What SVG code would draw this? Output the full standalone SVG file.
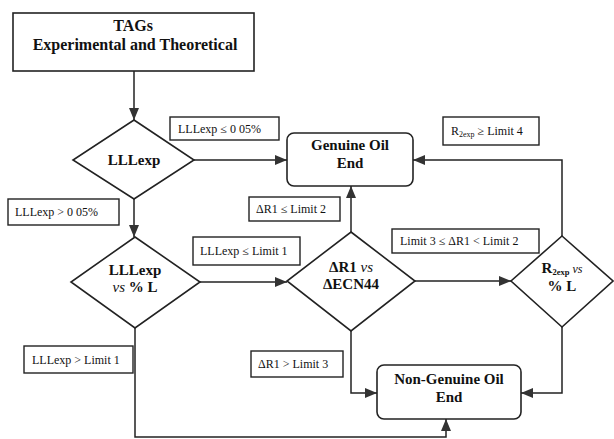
<svg xmlns="http://www.w3.org/2000/svg" width="614" height="439" viewBox="0 0 614 439">
<style>
.box{fill:#fff;stroke:#222;stroke-width:1.6}
.lbl{fill:#fff;stroke:#222;stroke-width:1.4}
.ln{fill:none;stroke:#222;stroke-width:1.5}
.nt{font-family:"Liberation Serif",serif;font-weight:bold;font-size:15px;fill:#111;text-anchor:middle}
.tt{font-size:16px}
.lt{font-family:"Liberation Serif",serif;font-size:12px;fill:#111}
.sub{font-size:8.5px;font-weight:bold}
</style>
<defs>
<marker id="ah" viewBox="0 0 12 10" refX="12" refY="5" markerWidth="12" markerHeight="10" markerUnits="userSpaceOnUse" orient="auto">
<path d="M0,0 L12,5 L0,10 Z" fill="#333"/>
</marker>
</defs>
<rect width="614" height="439" fill="#fff"/>
<g id="connectors">
<line class="ln" x1="134" y1="71" x2="134" y2="120" marker-end="url(#ah)"/>
<line class="ln" x1="194" y1="160" x2="287" y2="160" marker-end="url(#ah)"/>
<line class="ln" x1="134" y1="199" x2="134" y2="237" marker-end="url(#ah)"/>
<line class="ln" x1="199" y1="282" x2="287" y2="282" marker-end="url(#ah)"/>
<line class="ln" x1="351" y1="232" x2="351" y2="186" marker-end="url(#ah)"/>
<line class="ln" x1="415" y1="281" x2="511" y2="281" marker-end="url(#ah)"/>
<polyline class="ln" points="562,236 562,160 413,160" marker-end="url(#ah)"/>
<polyline class="ln" points="351,331 351,393 377,393" marker-end="url(#ah)"/>
<polyline class="ln" points="562,327 562,393 521,393" marker-end="url(#ah)"/>
<polyline class="ln" points="135,328 135,437 446,437 446,419" marker-end="url(#ah)"/>
</g>
<g id="tags">
<rect class="box" x="13" y="13" width="241" height="58"/>
<text class="nt tt" x="133" y="31">TAGs</text>
<text class="nt tt" x="135" y="50">Experimental and Theoretical</text>
</g>
<g id="d-lllexp">
<polygon class="box" points="134,120 194,160 134,199 73,160"/>
<text class="nt" x="134" y="165">LLLexp</text>
</g>
<g id="genuine">
<rect class="box" x="287" y="133" width="126" height="53" rx="7"/>
<text class="nt" x="350" y="150">Genuine Oil</text>
<text class="nt" x="350" y="168">End</text>
</g>
<g id="d-lllexp-vs">
<polygon class="box" points="135,237 200,282 135,328 71,282"/>
<text class="nt" x="135" y="275">LLLexp</text>
<text class="nt" x="135" y="292"><tspan font-style="italic" font-weight="normal">vs</tspan> % L</text>
</g>
<g id="d-dr1">
<polygon class="box" points="351,232 415,281 351,331 287,281"/>
<text class="nt" x="351" y="272">ΔR1 <tspan font-style="italic" font-weight="normal">vs</tspan></text>
<text class="nt" x="351" y="289">ΔECN44</text>
</g>
<g id="d-r2exp">
<polygon class="box" points="562,236 613,281 562,327 511,281"/>
<text class="nt" x="562" y="273">R<tspan class="sub" dy="2">2exp</tspan><tspan dy="-2" font-style="italic" font-weight="normal" font-size="12"> vs</tspan></text>
<text class="nt" x="562" y="291">% L</text>
</g>
<g id="nongenuine">
<rect class="box" x="377" y="365" width="144" height="54" rx="7"/>
<text class="nt" x="449" y="384">Non-Genuine Oil</text>
<text class="nt" x="449" y="402">End</text>
</g>
<g id="labels">
<rect class="lbl" x="170" y="117" width="109" height="23"/>
<text class="lt" x="178" y="133">LLLexp ≤ 0 05%</text>
<rect class="lbl" x="443" y="117" width="96" height="28"/>
<text class="lt" x="451" y="135">R<tspan font-size="8" dy="2">2exp</tspan><tspan dy="-2"> ≥ Limit 4</tspan></text>
<rect class="lbl" x="8" y="199" width="111" height="26"/>
<text class="lt" x="15" y="216">LLLexp &gt; 0 05%</text>
<rect class="lbl" x="249" y="197" width="91" height="24"/>
<text class="lt" x="256" y="213">ΔR1 ≤ Limit 2</text>
<rect class="lbl" x="193" y="237" width="107" height="28"/>
<text class="lt" x="200" y="255">LLLexp ≤ Limit 1</text>
<rect class="lbl" x="392" y="229" width="147" height="24"/>
<text class="lt" x="400" y="245">Limit 3 ≤ ΔR1 &lt; Limit 2</text>
<rect class="lbl" x="24" y="346" width="109" height="27"/>
<text class="lt" x="32" y="364">LLLexp &gt; Limit 1</text>
<rect class="lbl" x="251" y="351" width="92" height="26"/>
<text class="lt" x="258" y="368">ΔR1 &gt; Limit 3</text>
</g>
</svg>
